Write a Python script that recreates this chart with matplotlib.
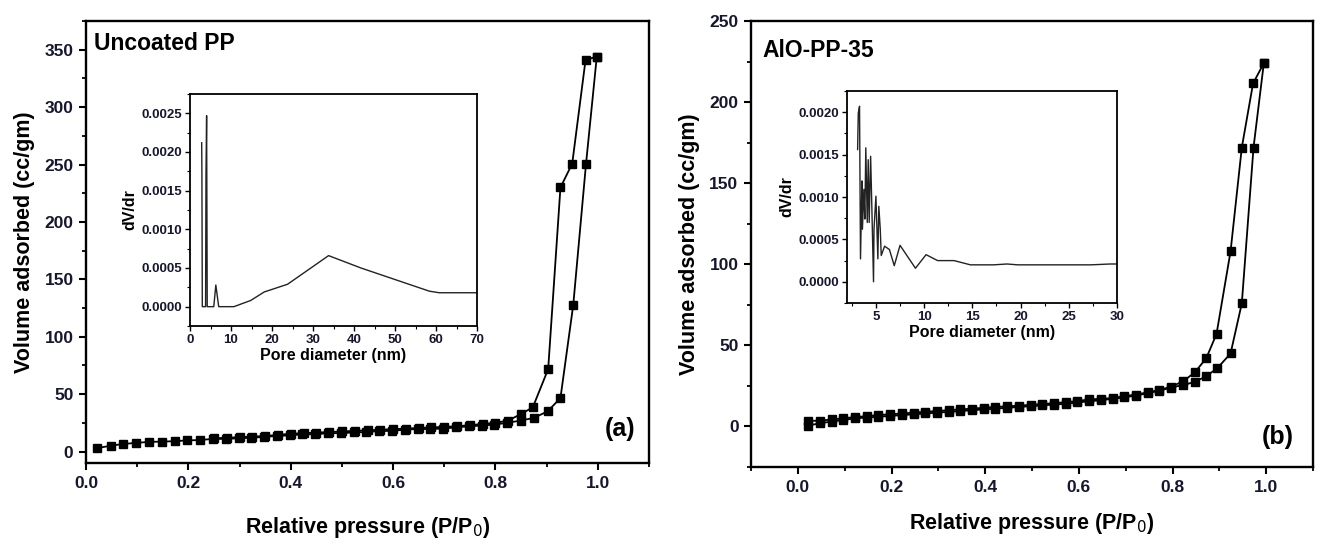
import matplotlib
matplotlib.use("Agg")
import matplotlib.pyplot as plt
from matplotlib.ticker import MultipleLocator

plt.rcParams['font.family'] = ['Liberation Sans', 'DejaVu Sans']

INK = '#16162e'

# ---------------- (a) Uncoated PP : N2 isotherm ----------------
p_ads_a = [0.022, 0.048, 0.073, 0.098, 0.123, 0.148, 0.173, 0.198, 0.223, 0.248,
           0.273, 0.298, 0.323, 0.348, 0.373, 0.398, 0.423, 0.448, 0.473, 0.498,
           0.523, 0.548, 0.573, 0.598, 0.623, 0.648, 0.673, 0.698, 0.723, 0.748,
           0.773, 0.798, 0.823, 0.850, 0.875, 0.902, 0.927, 0.952, 0.977, 0.998]
v_ads_a = [3.0, 5.0, 6.6, 7.5, 8.4, 8.6, 9.0, 9.7, 10.0, 11.0,
           11.0, 11.5, 12.0, 12.7, 13.6, 14.0, 15.0, 15.0, 16.0, 16.0,
           16.6, 17.0, 17.8, 18.0, 19.0, 19.6, 19.6, 20.0, 21.0, 22.0,
           22.6, 23.5, 25.0, 27.0, 29.3, 35.0, 46.6, 127.7, 250.8, 344.0]
p_des_a = [0.998, 0.976, 0.950, 0.927, 0.903, 0.873, 0.850, 0.825, 0.800, 0.775,
           0.750, 0.725, 0.700, 0.675, 0.650, 0.625, 0.600, 0.575, 0.550, 0.525,
           0.500, 0.475, 0.450, 0.425, 0.400, 0.375, 0.350, 0.325, 0.300, 0.275,
           0.250]
v_des_a = [344.0, 341.0, 250.8, 230.0, 71.8, 38.5, 32.7, 27.0, 25.0, 24.0,
           23.0, 22.0, 21.5, 21.0, 20.5, 20.0, 19.5, 19.0, 18.5, 18.0,
           17.5, 17.0, 16.5, 16.0, 15.5, 14.5, 13.5, 13.0, 12.5, 12.0,
           11.5]

# pore size distribution, uncoated PP
d_a = [2.85, 2.9, 3.0, 3.8, 3.9, 4.05, 4.2, 5.8, 6.3, 7.0, 7.8, 10.7,
       14.8, 18.1, 23.8, 33.8, 41.7, 58.4, 60.8, 70.0]
dvdr_a = [0.00212, 0.00177, 0.0, 0.0, 0.00171, 0.00247, 0.0, 0.0, 0.00028, 0.0,
          0.0, 0.0, 0.00008, 0.00019, 0.00029, 0.00066, 0.00050, 0.00020,
          0.00018, 0.00018]

# ---------------- (b) AlO-PP-35 : N2 isotherm ----------------
p_ads_b = [0.022, 0.047, 0.072, 0.097, 0.122, 0.147, 0.172, 0.197, 0.222, 0.247,
           0.272, 0.297, 0.322, 0.347, 0.372, 0.397, 0.422, 0.447, 0.472, 0.497,
           0.522, 0.547, 0.572, 0.597, 0.622, 0.647, 0.672, 0.697, 0.722, 0.747,
           0.772, 0.797, 0.822, 0.847, 0.872, 0.896, 0.924, 0.948, 0.973, 0.995]
v_ads_b = [0.5, 2.0, 3.0, 4.0, 5.0, 5.5, 6.0, 6.5, 7.0, 7.5,
           8.0, 8.5, 9.0, 9.5, 10.0, 10.5, 11.0, 11.5, 12.0, 12.5,
           13.0, 13.5, 14.0, 14.8, 15.5, 16.2, 17.0, 18.0, 19.0, 20.5,
           22.0, 24.0, 25.5, 27.4, 31.0, 36.0, 45.0, 75.9, 172.0, 224.0]
p_des_b = [0.995, 0.972, 0.948, 0.924, 0.894, 0.872, 0.848, 0.823, 0.797, 0.772,
           0.747, 0.722, 0.697, 0.672, 0.647, 0.622, 0.597, 0.572, 0.547, 0.522,
           0.497, 0.472, 0.447, 0.422, 0.397, 0.372, 0.347, 0.322, 0.297, 0.272,
           0.247, 0.222, 0.197, 0.172, 0.147, 0.122, 0.097, 0.072, 0.047, 0.022]
v_des_b = [224.0, 211.5, 172.0, 108.0, 57.0, 42.0, 33.5, 27.8, 24.6, 22.4,
           21.0, 19.7, 18.6, 17.5, 17.0, 16.7, 15.6, 15.0, 14.3, 13.9,
           13.3, 12.8, 12.4, 12.0, 11.5, 11.0, 10.5, 10.0, 9.5, 9.0,
           8.5, 8.0, 7.5, 7.0, 6.3, 5.8, 5.0, 4.3, 3.5, 3.5]

# pore size distribution, AlO-PP-35
d_b = [3.1, 3.17, 3.3, 3.4, 3.55, 3.6, 3.75, 3.85, 3.95, 4.1, 4.2, 4.3, 4.45,
       4.55, 4.75, 4.8, 5.0, 5.2, 5.3, 5.45, 5.55, 5.9, 6.4, 6.9, 7.5, 9.1,
       10.2, 11.4, 13.1, 14.8, 17.2, 18.6, 19.7, 27.3, 29.3, 30.0]
dvdr_b = [0.00156, 0.00199, 0.00207, 0.00027, 0.00119, 0.00062, 0.00109,
          0.00074, 0.00158, 0.00070, 0.00144, 0.00070, 0.00148, 0.00101,
          0.00000, 0.00062, 0.00101, 0.00027, 0.00089, 0.00062, 0.00031,
          0.00042, 0.00038, 0.00019, 0.00043, 0.00016, 0.00032, 0.00025,
          0.00025, 0.00020, 0.00020, 0.00021, 0.00020, 0.00020, 0.00021,
          0.00021]

W, H = 1324, 545
fig = plt.figure(figsize=(W / 100, H / 100), dpi=100)


def box(x0, y0, x1, y1):
    """Axes rectangle from pixel corners (top-left origin)."""
    return [x0 / W, 1 - y1 / H, (x1 - x0) / W, (y1 - y0) / H]


def style_main(ax):
    for s in ax.spines.values():
        s.set_linewidth(1.7)
    ax.tick_params(which='major', direction='out', length=5, width=1.5,
                   labelsize=12.5, colors='black', labelcolor=INK, pad=4)
    ax.tick_params(which='minor', direction='out', length=3, width=1.3)
    for lab in ax.get_xticklabels() + ax.get_yticklabels():
        lab.set_fontweight('bold')


def style_inset(ax):
    for s in ax.spines.values():
        s.set_linewidth(1.3)
    ax.tick_params(which='major', direction='out', length=3.5, width=1.0,
                   labelsize=9.5, labelcolor=INK, pad=2)
    ax.tick_params(which='minor', direction='out', length=2, width=0.8)
    for lab in ax.get_xticklabels() + ax.get_yticklabels():
        lab.set_fontweight('bold')


mk = dict(marker='s', markersize=5.8, color='black', lw=1.3,
          markerfacecolor='black', markeredgecolor='black')

# ---- panel (a)
axa = fig.add_axes(box(86, 21, 649, 463))
axa.plot(p_ads_a, v_ads_a, **mk)
axa.plot(p_des_a, v_des_a, **mk)
axa.set_xlim(0, 1.1)
axa.set_ylim(-10, 375)
axa.xaxis.set_minor_locator(MultipleLocator(0.1))
axa.yaxis.set_major_locator(MultipleLocator(50))
axa.yaxis.set_minor_locator(MultipleLocator(25))
axa.set_xticks([0.0, 0.2, 0.4, 0.6, 0.8, 1.0])
axa.set_xticklabels(['0.0', '0.2', '0.4', '0.6', '0.8', '1.0'])
style_main(axa)
axa.set_xlabel('Relative pressure (P/P$_0$)', fontsize=15.5, fontweight='bold',
               labelpad=18)
axa.set_ylabel('Volume adsorbed (cc/gm)', fontsize=15.5, fontweight='bold',
               labelpad=7)
axa.text(0.015, 0.975, 'Uncoated PP', transform=axa.transAxes, fontsize=16.5,
         fontweight='bold', va='top', ha='left')
axa.text(0.975, 0.05, '(a)', transform=axa.transAxes, fontsize=18,
         fontweight='bold', va='bottom', ha='right')

ina = fig.add_axes(box(190, 94, 477, 326))
ina.plot(d_a, dvdr_a, color='#222222', lw=1.0)
ina.set_xlim(0, 70)
ina.set_ylim(-0.00025, 0.00275)
ina.xaxis.set_major_locator(MultipleLocator(10))
ina.xaxis.set_minor_locator(MultipleLocator(5))
ina.yaxis.set_major_locator(MultipleLocator(0.0005))
ina.yaxis.set_minor_locator(MultipleLocator(0.00025))
ina.yaxis.set_major_formatter(plt.FormatStrFormatter('%.4f'))
style_inset(ina)
ina.set_xlabel('Pore diameter (nm)', fontsize=11.5, fontweight='bold', labelpad=2)
ina.set_ylabel('dV/dr', fontsize=11.5, fontweight='bold', labelpad=3)

# ---- panel (b)
axb = fig.add_axes(box(751, 21, 1313, 467))
axb.plot(p_ads_b, v_ads_b, **mk)
axb.plot(p_des_b, v_des_b, **mk)
axb.set_xlim(-0.1, 1.1)
axb.set_ylim(-25, 250)
axb.xaxis.set_minor_locator(MultipleLocator(0.1))
axb.set_xticks([0.0, 0.2, 0.4, 0.6, 0.8, 1.0])
axb.set_xticklabels(['0.0', '0.2', '0.4', '0.6', '0.8', '1.0'])
axb.yaxis.set_major_locator(MultipleLocator(50))
axb.yaxis.set_minor_locator(MultipleLocator(25))
style_main(axb)
axb.set_xlabel('Relative pressure (P/P$_0$)', fontsize=15.5, fontweight='bold',
               labelpad=12)
axb.set_ylabel('Volume adsorbed (cc/gm)', fontsize=15.5, fontweight='bold',
               labelpad=7)
axb.text(0.02, 0.96, 'AlO-PP-35', transform=axb.transAxes, fontsize=16.5,
         fontweight='bold', va='top', ha='left')
axb.text(0.965, 0.04, '(b)', transform=axb.transAxes, fontsize=18,
         fontweight='bold', va='bottom', ha='right')

inb = fig.add_axes(box(847, 91, 1117, 303))
inb.plot(d_b, dvdr_b, color='#222222', lw=1.0)
inb.set_xlim(2.0, 30)
inb.set_ylim(-0.00025, 0.00225)
inb.xaxis.set_major_locator(MultipleLocator(5))
inb.xaxis.set_minor_locator(MultipleLocator(2.5))
inb.yaxis.set_major_locator(MultipleLocator(0.0005))
inb.yaxis.set_minor_locator(MultipleLocator(0.00025))
inb.yaxis.set_major_formatter(plt.FormatStrFormatter('%.4f'))
style_inset(inb)
inb.set_xlabel('Pore diameter (nm)', fontsize=11.5, fontweight='bold', labelpad=2)
inb.set_ylabel('dV/dr', fontsize=11.5, fontweight='bold', labelpad=3)

fig.savefig('out.png', dpi=100)
